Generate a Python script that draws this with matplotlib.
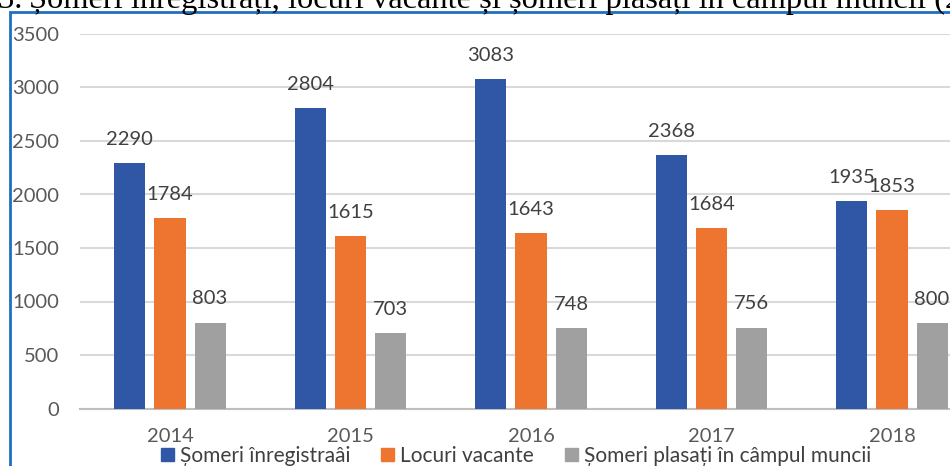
import matplotlib.pyplot as plt
from matplotlib.patches import Rectangle, Patch

years = ['2014', '2015', '2016', '2017', '2018']
inregistrati = [2290, 2804, 3083, 2368, 1935]
locuri = [1784, 1615, 1643, 1684, 1853]
plasati = [803, 703, 748, 756, 800]
series_names = ['Șomeri înregistraâi', 'Locuri vacante', 'Șomeri plasați în câmpul muncii']
colors = ['#3056A6', '#EE7530', '#A0A0A0']

plt.rcParams['font.family'] = ['Lato', 'DejaVu Sans']

W, H = 950, 466
fig = plt.figure(figsize=(9.5, 4.66), dpi=100)

# axes extends past the right edge, like the cropped screenshot
ax = fig.add_axes([79.75 / W, (H - 408.5) / H, 902.5 / W, 374.5 / H])

x = list(range(len(years)))
off = 0.222
bw = 0.172
for i, vals in enumerate([inregistrati, locuri, plasati]):
    xs = [v + (i - 1) * off for v in x]
    ax.bar(xs, vals, width=bw, color=colors[i], label=series_names[i], zorder=3)
    for xx, v in zip(xs, vals):
        ax.annotate(str(v), (xx, v), xytext=(0, 17), textcoords='offset points',
                    ha='center', va='center', fontsize=14.5, color='#404040')

ax.set_xlim(-0.5, 4.5)
ax.set_ylim(0, 3500)
ax.set_yticks(range(0, 3501, 500))
ax.set_xticks(x)
ax.set_xticklabels(years)
ax.yaxis.grid(True, color='#D9D9D9', linewidth=1.5, zorder=0)
ax.set_axisbelow(True)
for s in ['top', 'right', 'left']:
    ax.spines[s].set_visible(False)
ax.spines['bottom'].set_color('#BFBFBF')
ax.spines['bottom'].set_linewidth(1.5)
ax.tick_params(axis='both', length=0, labelsize=14.5, labelcolor='#595959')
ax.tick_params(axis='y', pad=15)
ax.tick_params(axis='x', pad=14)

handles = [Patch(color=c) for c in colors]
fig.legend(handles, series_names, loc='center', ncol=3,
           bbox_to_anchor=(516 / W, 1 - 456 / H), frameon=False,
           fontsize=15, labelcolor='#404040', handlelength=0.6, handleheight=0.6,
           handletextpad=0.3, columnspacing=1.5, borderpad=0)

# blue frame of the embedded chart
fig.patches.append(Rectangle((10 / W, -0.1), 1.2, 1 - 12 / H + 0.1, transform=fig.transFigure,
                             fill=False, edgecolor='#1F6FC0', linewidth=2, clip_on=False))

# caption above the chart, cut at the top of the screenshot
fig.text(22 / W, 1 - 8 / H, 'Figura 3.', ha='right', va='baseline',
         family='Liberation Serif', fontsize=23.4, color='black')
fig.text(29 / W, 1 - 8 / H, 'Șomeri înregistrați, locuri vacante și șomeri plasați în câmpul muncii (2014-2018)',
         ha='left', va='baseline', family='Liberation Serif', fontsize=23.4, color='black')

fig.savefig('out.png', dpi=100)
